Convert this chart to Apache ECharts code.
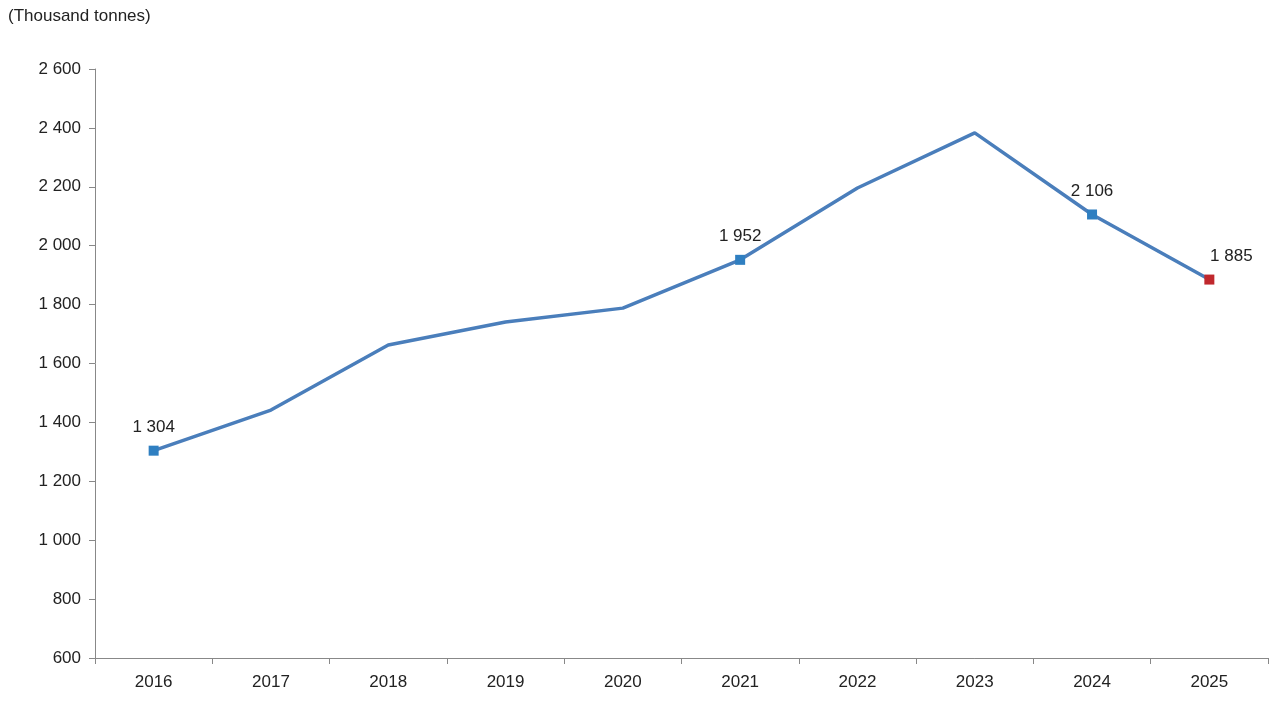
<!DOCTYPE html>
<html><head><meta charset="utf-8">
<script src="https://cdn.jsdelivr.net/npm/echarts@6/dist/echarts.min.js"></script>
<style>html,body{margin:0;padding:0;background:#fff}#c{width:1280px;height:708px}</style>
</head><body><div id="c"></div>
<script>
const years = ['2016','2017','2018','2019','2020','2021','2022','2023','2024','2025'];
const values = [1304,1442,1663,1741,1788,1952,2196,2383,2106,1885];
const labelled = ['2016','2021','2024','2025'];
const highlightYear = '2025';
const fmt = v => String(v).replace(/\B(?=(\d{3})+(?!\d))/g, ' ');
const chart = echarts.init(document.getElementById('c'));
const data = values.map((v,i)=>{
  const y = years[i];
  const show = labelled.includes(y);
  return {
    value: v,
    symbol: show ? 'rect' : 'none',
    symbolSize: 10,
    itemStyle: {color: y===highlightYear ? '#c0282d' : '#2f7fc1'},
    label: {show: show, formatter: p=>fmt(p.value), position: 'top', distance: 10,
      color:'#222', fontSize:17, fontFamily:'Liberation Sans, Arial', offset: y===highlightYear?[22,0]:[0,0]}
  };
});
chart.setOption({
  animation:false,
  graphic:[{type:'text',left:8,top:8,style:{text:'(Thousand tonnes)',fontSize:17,fill:'#222',fontFamily:'Liberation Sans, Arial'}}],
  grid:{left:95,right:12,top:69,bottom:50},
  xAxis:{type:'category',data:years,boundaryGap:true,
    axisLine:{lineStyle:{color:'#888'}},axisTick:{show:true,length:6,lineStyle:{color:'#888'}},
    axisLabel:{color:'#222',fontSize:17,margin:16,fontFamily:'Liberation Sans, Arial'}},
  yAxis:{type:'value',min:600,max:2600,interval:200,
    axisLine:{show:true,lineStyle:{color:'#888'}},axisTick:{show:true,length:6,lineStyle:{color:'#888'}},
    splitLine:{show:false},
    axisLabel:{color:'#222',fontSize:17,margin:14,formatter:fmt,fontFamily:'Liberation Sans, Arial'}},
  series:[{type:'line',data:data,lineStyle:{color:'#4a7ebb',width:3.5},itemStyle:{color:'#2f7fc1'}}]
});
</script></body></html>
